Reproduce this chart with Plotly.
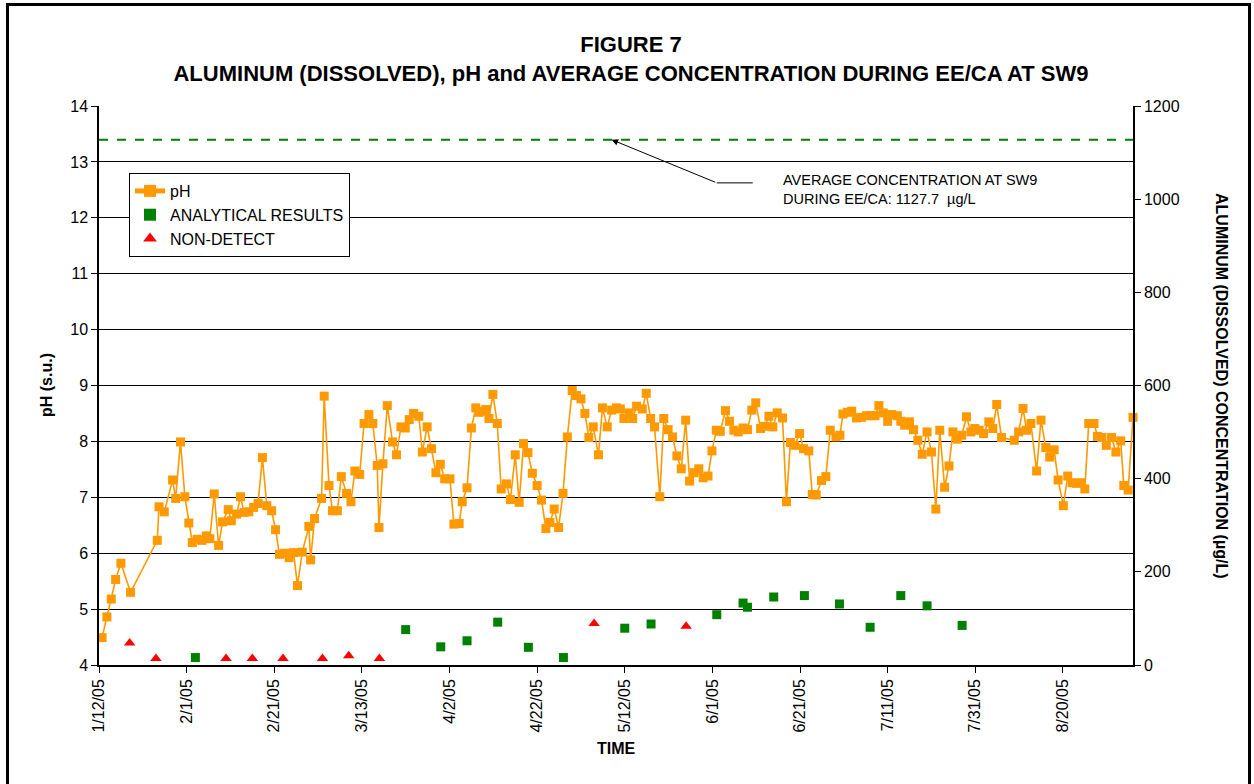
import pandas as pd
import plotly.graph_objects as go

START = "2005-01-12"

# pH series: days since 1/12/05 and pH (s.u.)
ph_days = [0.7, 1.8, 2.8, 3.8, 5.0, 7.2, 13.3, 13.7, 14.9, 16.8, 17.5, 18.6, 19.6, 20.5, 21.3, 22.4,
           23.5, 24.5, 25.3, 26.3, 27.3, 28.2, 29.5, 30.2, 31.4, 32.3, 33.1, 34.2, 35.3, 36.3, 37.3,
           38.3, 39.4, 40.3, 41.2, 42.4, 43.4, 44.4, 45.3, 46.4, 47.9, 48.3, 49.2, 50.8, 51.4, 52.5,
           53.3, 54.4, 55.3, 56.5, 57.5, 58.4, 59.5, 60.5, 61.6, 62.5, 63.5, 63.9, 64.8, 65.8, 67.0,
           67.9, 68.9, 69.9, 70.8, 71.8, 73.0, 73.8, 74.9, 75.9, 76.9, 77.9, 78.9, 80.1, 81.0, 82.2,
           82.9, 84.0, 85.0, 86.0, 86.7, 87.7, 88.3, 89.0, 89.9, 90.9, 91.8, 93.0, 93.9, 95.0, 95.9,
           96.9, 97.9, 98.9, 100.0, 101.0, 102.0, 102.9, 103.9, 104.9, 105.9, 106.9, 108.0, 109.0,
           110.0, 110.9, 111.8, 112.8, 114.0, 114.9, 116.0, 117.0, 118.1, 119.0, 119.8, 121.0, 121.8,
           122.7, 124.0, 124.9, 125.9, 126.8, 128.0, 128.9, 129.9, 130.9, 131.9, 132.9, 133.9, 134.8,
           135.8, 136.9, 137.9, 139.0, 139.9, 140.9, 141.8, 143.0, 143.9, 144.9, 145.9, 147.0, 148.0,
           149.0, 149.9, 151.0, 151.9, 152.9, 153.8, 154.8, 156.0, 156.9, 157.8, 158.8, 159.9, 160.8,
           162.0, 162.8, 163.7, 164.9, 165.9, 166.9, 168.2, 169.1, 169.8, 170.8, 171.8, 172.9, 174.0,
           175.2, 176.1, 177.1, 178.0, 179.0, 180.0, 180.9, 182.2, 183.0, 183.9, 185.0, 185.9, 186.9,
           187.9, 189.0, 190.0, 191.0, 191.9, 193.0, 194.0, 194.9, 195.9, 196.9, 198.0, 199.0, 199.9,
           200.9, 201.9, 203.1, 204.0, 204.9, 206.0, 208.9, 209.9, 210.9, 211.7, 212.7, 214.0, 215.0,
           216.1, 217.0, 218.0, 218.9, 220.1, 221.1, 222.1, 223.1, 224.1, 225.0, 225.9, 227.1, 227.9,
           228.9, 229.9, 231.1, 232.1, 233.2, 233.9, 234.9, 236.0]
ph_values = [4.49, 4.86, 5.18, 5.53, 5.82, 5.30, 6.23, 6.83, 6.74, 7.31, 6.98, 7.99, 7.01, 6.54, 6.19, 6.25,
             6.23, 6.31, 6.26, 7.06, 6.14, 6.56, 6.78, 6.58, 6.70, 7.01, 6.73, 6.74, 6.82, 6.89, 7.71,
             6.85, 6.76, 6.42, 5.98, 6.00, 5.92, 6.01, 5.42, 6.02, 6.48, 5.88, 6.62, 6.98, 8.81, 7.21,
             6.76, 6.76, 7.37, 7.07, 6.92, 7.47, 7.41, 8.32, 8.48, 8.32, 7.57, 6.46, 7.60, 8.64, 7.99,
             7.76, 8.26, 8.24, 8.39, 8.50, 8.45, 7.81, 8.26, 7.87, 7.44, 7.59, 7.33, 7.33, 6.52, 6.53,
             6.92, 7.17, 8.24, 8.60, 8.52, 8.54, 8.57, 8.41, 8.84, 8.32, 7.15, 7.24, 6.96, 7.76, 6.91,
             7.96, 7.80, 7.43, 7.21, 6.95, 6.44, 6.55, 6.79, 6.46, 7.07, 8.08, 8.91, 8.82,
             8.76, 8.50, 8.07, 8.26, 7.76, 8.60, 8.26, 8.56, 8.60, 8.58, 8.41, 8.51, 8.41,
             8.63, 8.58, 8.86, 8.41, 8.26, 7.01, 8.41, 8.21, 8.08, 7.74, 7.51, 8.38, 7.29,
             7.44, 7.51, 7.35, 7.38, 7.83, 8.20, 8.18, 8.55, 8.36, 8.20, 8.17, 8.24, 8.21,
             8.56, 8.69, 8.23, 8.27, 8.45, 8.26, 8.51, 8.42, 6.92, 7.98, 7.93, 8.14, 7.87,
             7.83, 7.05, 7.04, 7.30, 7.37, 8.20, 8.08, 8.11, 8.49, 8.52, 8.54, 8.42, 8.43,
             8.46, 8.46, 8.46, 8.64, 8.51, 8.36, 8.48, 8.46, 8.36, 8.29, 8.35, 8.21, 8.02,
             7.77, 8.17, 7.81, 6.79, 8.20, 7.18, 7.56, 8.17, 8.04, 8.11, 8.44, 8.17, 8.23,
             8.20, 8.14, 8.35, 8.23, 8.66, 8.07, 8.02, 8.17, 8.59, 8.20, 8.32, 7.47, 8.38,
             7.89, 7.72, 7.85, 7.31, 6.85, 7.38, 7.26, 7.25, 7.26, 7.15, 8.32, 8.32, 8.09,
             8.07, 7.93, 8.07, 7.81, 8.01, 7.21, 7.13, 8.43]

# Aluminum (dissolved) analytical results, ug/L
result_dates = ["2005-02-03", "2005-03-23", "2005-03-31", "2005-04-06", "2005-04-13", "2005-04-20",
                "2005-04-28", "2005-05-12", "2005-05-18", "2005-06-02", "2005-06-08", "2005-06-09",
                "2005-06-15", "2005-06-22", "2005-06-30", "2005-07-07", "2005-07-14", "2005-07-20",
                "2005-07-28"]
result_values = [16, 76, 39, 52, 92, 38, 16, 79, 88, 108, 133, 124, 146, 149, 131, 81, 149, 127, 85]

# Non-detects, ug/L
nd_dates = ["2005-01-19", "2005-01-25", "2005-02-10", "2005-02-16", "2005-02-23", "2005-03-04",
            "2005-03-10", "2005-03-17", "2005-05-05", "2005-05-26"]
nd_values = [47, 14, 14, 14, 14, 14, 20, 14, 89, 83]

avg_concentration = 1127.7

tick_dates = ["2005-01-12", "2005-02-01", "2005-02-21", "2005-03-13", "2005-04-02", "2005-04-22",
              "2005-05-12", "2005-06-01", "2005-06-21", "2005-07-11", "2005-07-31", "2005-08-20"]
tick_labels = ["1/12/05", "2/1/05", "2/21/05", "3/13/05", "4/2/05", "4/22/05",
               "5/12/05", "6/1/05", "6/21/05", "7/11/05", "7/31/05", "8/20/05"]

start = pd.Timestamp(START)
ph_dates = [start + pd.to_timedelta(d, unit="D") for d in ph_days]
x_end = start + pd.Timedelta(days=236)

FONT = "Arial, Liberation Sans, sans-serif"
ORANGE = "#FF9900"
GREEN = "#008000"
RED = "#FF0000"

# plot-area geometry in pixels (used for placing paper-referenced items)
FW, FH = 1254, 784
L, R, T, B = 99, 1133, 106, 665
W, H = R - L, B - T
def px(xp):
    return (xp - L) / W
def py(yp):
    return (B - yp) / H

fig = go.Figure()
fig.add_trace(go.Scatter(
    x=ph_dates, y=ph_values, name="pH", mode="lines+markers",
    line=dict(color=ORANGE, width=1.6),
    marker=dict(symbol="square", size=9, color=ORANGE),
    cliponaxis=False, yaxis="y"))
fig.add_trace(go.Scatter(
    x=result_dates, y=result_values, name="ANALYTICAL RESULTS", mode="markers",
    marker=dict(symbol="square", size=9, color=GREEN), yaxis="y2"))
fig.add_trace(go.Scatter(
    x=nd_dates, y=nd_values, name="NON-DETECT", mode="markers",
    marker=dict(symbol="triangle-up", size=10, color=RED), yaxis="y2"))

# average concentration dashed line
fig.add_shape(type="line", xref="paper", x0=0, x1=1, yref="y2",
              y0=avg_concentration, y1=avg_concentration,
              line=dict(color=GREEN, width=2, dash="dash"))

# callout leader: horizontal part + arrow
tail_x = start + pd.Timedelta(days=141)
fig.add_shape(type="line", xref="x", yref="y2",
              x0=tail_x, x1=start + pd.Timedelta(days=149.2), y0=1035, y1=1035,
              line=dict(color="black", width=1))
fig.add_annotation(
    x=start + pd.Timedelta(days=117), y=avg_concentration, xref="x", yref="y2",
    ax=tail_x, ay=1035, axref="x", ayref="y2",
    showarrow=True, arrowhead=2, arrowsize=1.3, arrowwidth=1, arrowcolor="black", text="")
fig.add_annotation(
    x=start + pd.Timedelta(days=155.6), y=1020, xref="x", yref="y2",
    text="AVERAGE CONCENTRATION AT SW9<br>DURING EE/CA: 1127.7  µg/L",
    showarrow=False, xanchor="left", yanchor="middle", align="left",
    font=dict(family=FONT, size=14.5, color="black"))

# axis titles
fig.add_annotation(x=px(46), y=py(385), xref="paper", yref="paper", text="<b>pH (s.u.)</b>",
                   xanchor="center", yanchor="middle",
                   showarrow=False, textangle=-90, font=dict(family=FONT, size=16, color="black"))
fig.add_annotation(x=px(616), y=py(748), xref="paper", yref="paper", text="<b>TIME</b>",
                   xanchor="center", yanchor="middle",
                   showarrow=False, font=dict(family=FONT, size=16, color="black"))
fig.add_annotation(x=px(1222), y=py(385), xref="paper", yref="paper",
                   text="<b>ALUMINUM (DISSOLVED) CONCENTRATION (µg/L)</b>", showarrow=False,
                   xanchor="center", yanchor="middle",
                   textangle=90, font=dict(family=FONT, size=16, color="black"))

# outer frame
fig.add_shape(type="rect", xref="paper", yref="paper",
              x0=px(7.5), x1=px(1249.5), y0=py(810), y1=py(4.5),
              line=dict(color="black", width=3), layer="above")

fig.update_layout(
    width=FW, height=FH,
    margin=dict(l=L, r=FW - R, t=T, b=FH - B),
    paper_bgcolor="white", plot_bgcolor="white",
    font=dict(family=FONT, size=16, color="black"),
    title=dict(text="<b>FIGURE 7<br>ALUMINUM (DISSOLVED), pH and AVERAGE CONCENTRATION DURING EE/CA AT SW9</b>",
               x=631 / FW, xanchor="center", y=1 - 52 / FH, yanchor="middle",
               xref="container", yref="container",
               font=dict(family=FONT, size=22, color="black")),
    showlegend=True,
    legend=dict(x=px(129), y=py(173), xanchor="left", yanchor="top",
                bgcolor="white", bordercolor="black", borderwidth=1,
                font=dict(family=FONT, size=16, color="black"),
                itemsizing="constant", tracegroupgap=0),
    xaxis=dict(type="date", range=[start, x_end], tickvals=tick_dates, ticktext=tick_labels,
               tickangle=-90, ticks="outside", ticklen=6, tickcolor="black",
               showline=True, linecolor="black", linewidth=1.5, showgrid=False, zeroline=False,
               tickfont=dict(family=FONT, size=16)),
    yaxis=dict(range=[4, 14], dtick=1, ticks="outside", ticklen=6, tickcolor="black",
               showline=True, linecolor="black", linewidth=1.5,
               showgrid=True, gridcolor="black", gridwidth=1, zeroline=False,
               tickfont=dict(family=FONT, size=16)),
    yaxis2=dict(range=[0, 1200], dtick=200, overlaying="y", side="right",
                ticks="outside", ticklen=6, tickcolor="black",
                showline=True, linecolor="black", linewidth=1.5, showgrid=False, zeroline=False,
                tickfont=dict(family=FONT, size=16)),
)

fig.write_html("out.html", config={"displayModeBar": False},
               post_script="document.body.style.margin='0';document.body.style.overflow='hidden';")
